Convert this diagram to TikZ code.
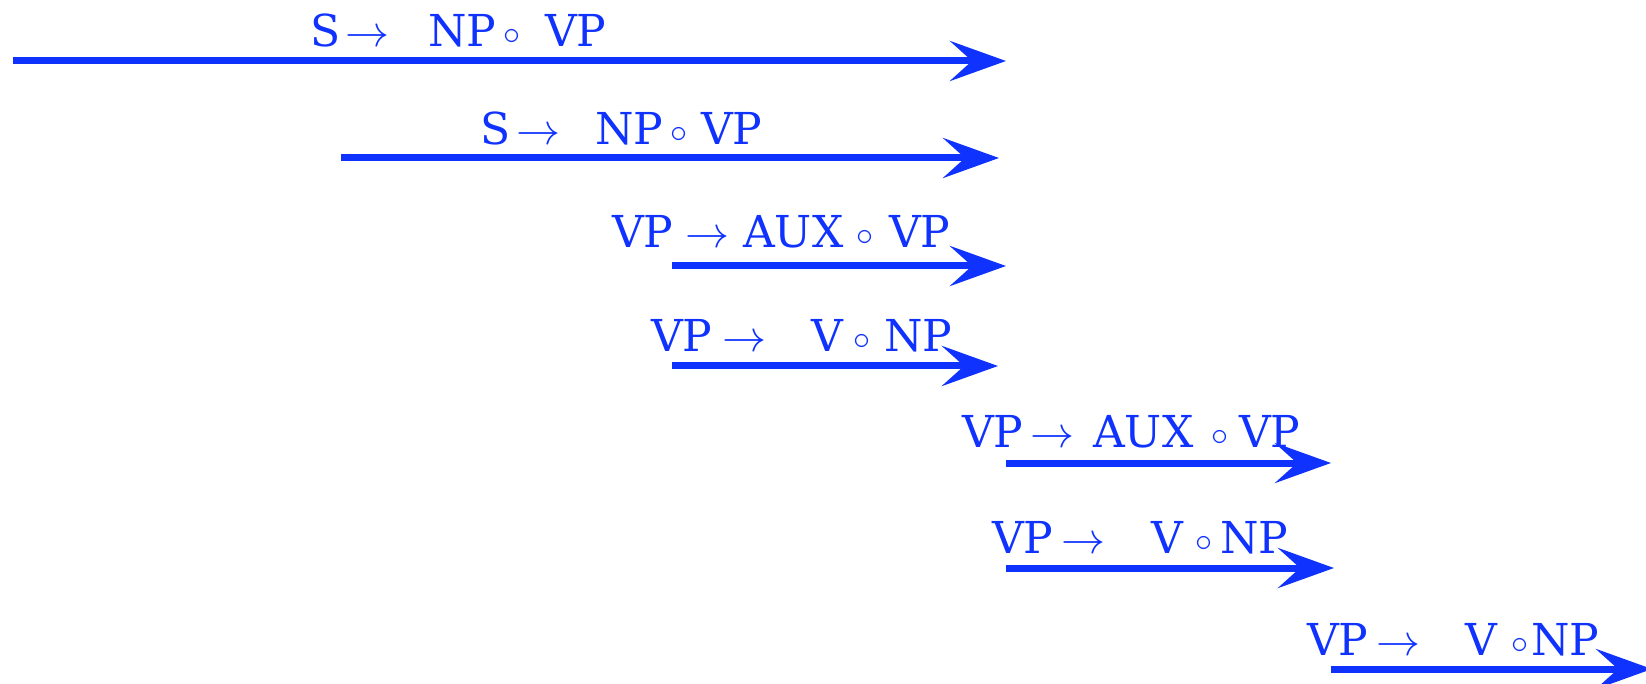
\RequirePackage{fix-cm}
\documentclass[tikz,border=0pt]{standalone}
\usepackage{fontspec}
\setmainfont{DejaVu Serif}
\usetikzlibrary{arrows.meta}
\definecolor{edgeblue}{RGB}{15,50,255}
\newcommand\tk[2]{\makebox[#1pt][l]{#2}}
\newcommand\ar{$\rightarrow$}
\newcommand\dt{\raisebox{2pt}{\fontsize{34}{40}\selectfont$\circ$}}
\begin{document}
\begin{tikzpicture}[x=1pt,y=-1pt,
  edge/.style={draw=edgeblue, line width=7pt, -{Stealth[length=56pt,width=40pt,inset=22pt]}},
  rule/.style={text=edgeblue, anchor=base west, inner sep=0pt, font=\fontsize{44}{52}\selectfont}]
\useasboundingbox (0,0) rectangle (1646,684);
\coordinate (s1) at (13,61);   \coordinate (e1) at (1006,61);
\coordinate (s2) at (341,158); \coordinate (e2) at (999,158);
\coordinate (s3) at (672,266); \coordinate (e3) at (1006,266);
\coordinate (s4) at (672,366); \coordinate (e4) at (998,366);
\coordinate (s5) at (1006,463); \coordinate (e5) at (1331,463);
\coordinate (s6) at (1006,568); \coordinate (e6) at (1334,568);
\coordinate (s7) at (1331,669); \coordinate (e7) at (1652,669);
\draw[edge] (s1) -- (e1);
\draw[edge] (s2) -- (e2);
\draw[edge] (s3) -- (e3);
\draw[edge] (s4) -- (e4);
\draw[edge] (s5) -- (e5);
\draw[edge] (s6) -- (e6);
\draw[edge] (s7) -- (e7);
\node[rule] (l1) at (310,47)  {\tk{35}{S}\tk{83}{\ar}\tk{75}{NP}\tk{42}{\dt}VP};
\node[rule] (l2) at (480,145) {\tk{36}{S}\tk{79}{\ar}\tk{75}{NP}\tk{31}{\dt}VP};
\node[rule] (l3) at (612,248) {\tk{73}{VP}\tk{58}{\ar}\tk{113}{AUX}\tk{33}{\dt}VP};
\node[rule] (l4) at (651,352) {\tk{71}{VP}\tk{89}{\ar}\tk{42}{V}\tk{31}{\dt}NP};
\node[rule] (l5) at (962,447) {\tk{68}{VP}\tk{63}{\ar}\tk{118}{AUX}\tk{28}{\dt}VP};
\node[rule] (l6) at (992,553) {\tk{69}{VP}\tk{90}{\ar}\tk{44}{V}\tk{25}{\dt}NP};
\node[rule] (l7) at (1307,655) {\tk{69}{VP}\tk{89}{\ar}\tk{46}{V}\tk{20}{\dt}NP};
\end{tikzpicture}
\end{document}
